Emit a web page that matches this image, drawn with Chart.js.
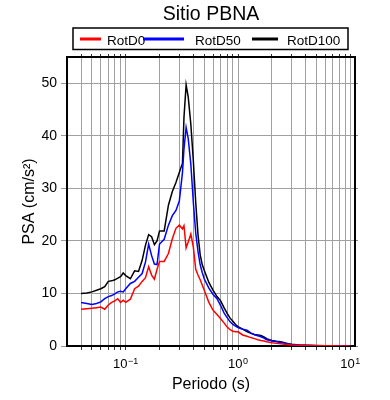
<!DOCTYPE html>
<html lang="es">
<head>
<meta charset="utf-8">
<title>Sitio PBNA</title>
<script src="https://cdn.jsdelivr.net/npm/chart.js@4.4.1/dist/chart.umd.min.js"></script>
<style>
  html, body { margin: 0; padding: 0; background: #fff; }
  #chart { display: block; }
</style>
</head>
<body>
<canvas id="chart" width="390" height="400"></canvas>
<script>
// Espectro de respuesta del sitio PBNA: periodo (s) contra PSA (cm/s2)
const chartTitle = 'Sitio PBNA';

const periods = [
  0.04, 0.045, 0.05, 0.055, 0.06, 0.065, 0.07, 0.075, 0.08, 0.085, 0.09, 0.095,
  0.1, 0.11, 0.12, 0.13, 0.14, 0.15, 0.16, 0.17, 0.18, 0.19, 0.2,
  0.22, 0.24, 0.26, 0.28, 0.3, 0.32, 0.33, 0.345, 0.36, 0.38, 0.4,
  0.42, 0.44, 0.46, 0.48, 0.5, 0.55, 0.6, 0.65, 0.7, 0.75, 0.8, 0.85, 0.9, 0.95,
  1.0, 1.1, 1.2, 1.3, 1.4, 1.5, 1.6, 1.7, 1.8, 1.9, 2.0,
  2.2, 2.4, 2.6, 2.8, 3.0, 3.5, 4.0, 5.0, 6.0, 7.0, 8.0, 10.0
];

const rotD0 = [
  7.0, 7.1, 7.2, 7.3, 7.4, 7.0, 7.8, 8.3, 8.6, 9.0, 8.3, 8.7,
  8.3, 8.9, 10.9, 11.4, 12.3, 13.0, 15.1, 13.5, 12.7, 14.6, 16.1,
  16.1, 17.6, 20.4, 22.4, 23.0, 22.3, 22.9, 18.7, 19.8, 21.3, 18.8,
  14.6, 13.5, 12.6, 11.6, 10.6, 8.3, 6.8, 6.0, 5.2, 4.4, 3.6, 3.1, 2.8, 2.7,
  2.7, 2.1, 1.85, 1.6, 1.4, 1.2, 1.05, 0.95, 0.8, 0.7, 0.62,
  0.5, 0.42, 0.32, 0.26, 0.2, 0.14, 0.1, 0.06, 0.04, 0.03, 0.02, 0.02
];

const rotD50 = [
  8.3, 8.1, 7.9, 8.1, 8.4, 9.0, 9.4, 9.6, 9.9, 10.3, 10.4, 10.3,
  10.9, 11.9, 12.3, 13.1, 13.8, 16.0, 19.4, 17.2, 15.6, 15.5, 19.4,
  20.3, 23.0, 24.8, 25.8, 27.6, 33.0, 37.5, 41.6, 39.5, 34.6, 27.3,
  21.5, 18.0, 15.5, 14.0, 12.8, 11.0, 9.8, 9.0, 7.7, 6.3, 5.4, 4.6, 4.1, 3.8,
  3.5, 3.2, 3.0, 2.5, 2.15, 1.95, 1.75, 1.5, 1.2, 1.1, 0.95,
  0.8, 0.65, 0.5, 0.38, 0.3, 0.18, 0.12, 0.07, 0.05, 0.03, 0.03, 0.02
];

const rotD100 = [
  10.0, 10.1, 10.3, 10.6, 10.9, 11.3, 12.3, 12.4, 12.6, 12.9, 13.2, 13.9,
  13.4, 12.8, 14.3, 14.2, 16.3, 19.2, 21.2, 20.8, 19.3, 20.0, 21.9,
  21.9, 26.8, 29.4, 31.1, 33.0, 34.8, 43.5, 49.7, 47.4, 42.2, 35.2,
  27.3, 21.2, 17.4, 15.5, 14.4, 12.1, 10.6, 9.4, 8.6, 7.3, 6.2, 5.3, 4.7, 4.1,
  3.7, 3.2, 2.75, 2.4, 2.2, 2.1, 2.0, 1.75, 1.4, 1.2, 1.05,
  0.9, 0.8, 0.6, 0.45, 0.35, 0.2, 0.14, 0.08, 0.05, 0.04, 0.03, 0.02
];

const seriesNames = ['RotD0', 'RotD50', 'RotD100'];
const seriesColors = ['#ff0000', '#0000ff', '#000000'];

const xMin = 0.03;
const xMax = 11;
const xTickValues = [
  0.04, 0.05, 0.06, 0.07, 0.08, 0.09,
  0.1, 0.2, 0.3, 0.4, 0.5, 0.6, 0.7, 0.8, 0.9,
  1, 2, 3, 4, 5, 6, 7, 8, 9, 10
];
const xLabelValues = [0.1, 1, 10];
const xLabelExponents = ['\u22121', '0', '1'];
const yMax = 55;
const yStep = 10;

const FONT = '"Liberation Sans", Arial, Helvetica, sans-serif';
Chart.defaults.font.family = FONT;
Chart.defaults.color = '#000';

const setXTicks = (scale) => {
  scale.ticks = xTickValues.map((v) => ({ value: v }));
};

// titulo, leyenda con marco y etiquetas 10^n del eje x
const frameDecor = {
  id: 'frameDecor',
  afterDraw(chart) {
    const { ctx, chartArea: area, scales } = chart;
    ctx.save();
    ctx.fillStyle = '#000';
    ctx.textBaseline = 'alphabetic';

    ctx.textAlign = 'center';
    ctx.font = `19.5px ${FONT}`;
    ctx.fillText(chartTitle, (area.left + area.right) / 2, 20);

    const boxLeft = area.left + 6;
    const boxRight = area.right - 7;
    ctx.lineWidth = 1.5;
    ctx.strokeStyle = '#000';
    ctx.strokeRect(boxLeft, 28, boxRight - boxLeft, 21.5);

    // [inicio de muestra, fin de muestra, inicio de texto] relativos al marco
    const slots = [[7, 28, 34], [70, 111, 122], [179, 205, 214]];
    ctx.textAlign = 'left';
    ctx.font = `13.5px ${FONT}`;
    seriesNames.forEach((name, i) => {
      const [a, b, t] = slots[i];
      ctx.fillStyle = seriesColors[i];
      ctx.fillRect(boxLeft + a, 37.5, b - a, 3);
      ctx.fillStyle = '#000';
      ctx.fillText(name, boxLeft + t, 44.5);
    });

    const xs = scales.x;
    xLabelValues.forEach((v, i) => {
      const px = xs.getPixelForValue(v);
      ctx.font = `13px ${FONT}`;
      const wBase = ctx.measureText('10').width;
      ctx.font = `9px ${FONT}`;
      const wExp = ctx.measureText(xLabelExponents[i]).width;
      const start = px - (wBase + wExp + 0.5) / 2;
      ctx.font = `13px ${FONT}`;
      ctx.fillText('10', start, 368);
      ctx.font = `9px ${FONT}`;
      ctx.fillText(xLabelExponents[i], start + wBase + 0.5, 364);
    });
    ctx.restore();
  }
};

const datasets = [rotD0, rotD50, rotD100].map((values, i) => ({
  label: seriesNames[i],
  data: periods.map((p, j) => ({ x: p, y: values[j] })),
  borderColor: seriesColors[i],
  backgroundColor: seriesColors[i],
  borderWidth: 1.5,
  pointRadius: 0,
  tension: 0,
  fill: false
}));

new Chart(document.getElementById('chart'), {
  type: 'line',
  data: { datasets },
  options: {
    responsive: false,
    animation: false,
    devicePixelRatio: 1,
    layout: { padding: 0 },
    plugins: {
      legend: { display: false },
      tooltip: { enabled: false },
      title: { display: false }
    },
    scales: {
      x: {
        type: 'logarithmic',
        position: 'bottom',
        min: xMin,
        max: xMax,
        afterBuildTicks: setXTicks,
        afterFit: (s) => { s.height = 54; },
        ticks: { display: false },
        grid: { color: '#a0a0a0', lineWidth: 1, tickLength: 4, tickColor: '#333' },
        border: { color: '#000', width: 2 },
        title: {
          display: true,
          text: 'Periodo (s)',
          color: '#000',
          font: { size: 16 },
          padding: { top: 0, bottom: 6 }
        }
      },
      xTop: {
        type: 'logarithmic',
        position: 'top',
        min: xMin,
        max: xMax,
        afterBuildTicks: setXTicks,
        afterFit: (s) => { s.height = 57; },
        ticks: { display: false },
        grid: { drawOnChartArea: false, tickLength: 3, tickColor: '#333' },
        border: { color: '#000', width: 2 }
      },
      y: {
        position: 'left',
        min: 0,
        max: yMax,
        afterFit: (s) => { s.width = 67; },
        ticks: { stepSize: yStep, includeBounds: false, color: '#000', font: { size: 14 }, padding: 4 },
        grid: { color: '#a0a0a0', lineWidth: 1, tickLength: 6, tickColor: '#999' },
        border: { color: '#000', width: 2 },
        title: {
          display: true,
          text: 'PSA (cm/s²)',
          color: '#000',
          font: { size: 16 },
          padding: { top: 20, bottom: 0 }
        }
      },
      yRight: {
        position: 'right',
        min: 0,
        max: yMax,
        afterFit: (s) => { s.width = 35; },
        ticks: { display: false, stepSize: yStep, includeBounds: false },
        grid: { drawOnChartArea: false, tickLength: 3, tickColor: '#888' },
        border: { color: '#000', width: 2 }
      }
    }
  },
  plugins: [frameDecor]
});
</script>
</body>
</html>
